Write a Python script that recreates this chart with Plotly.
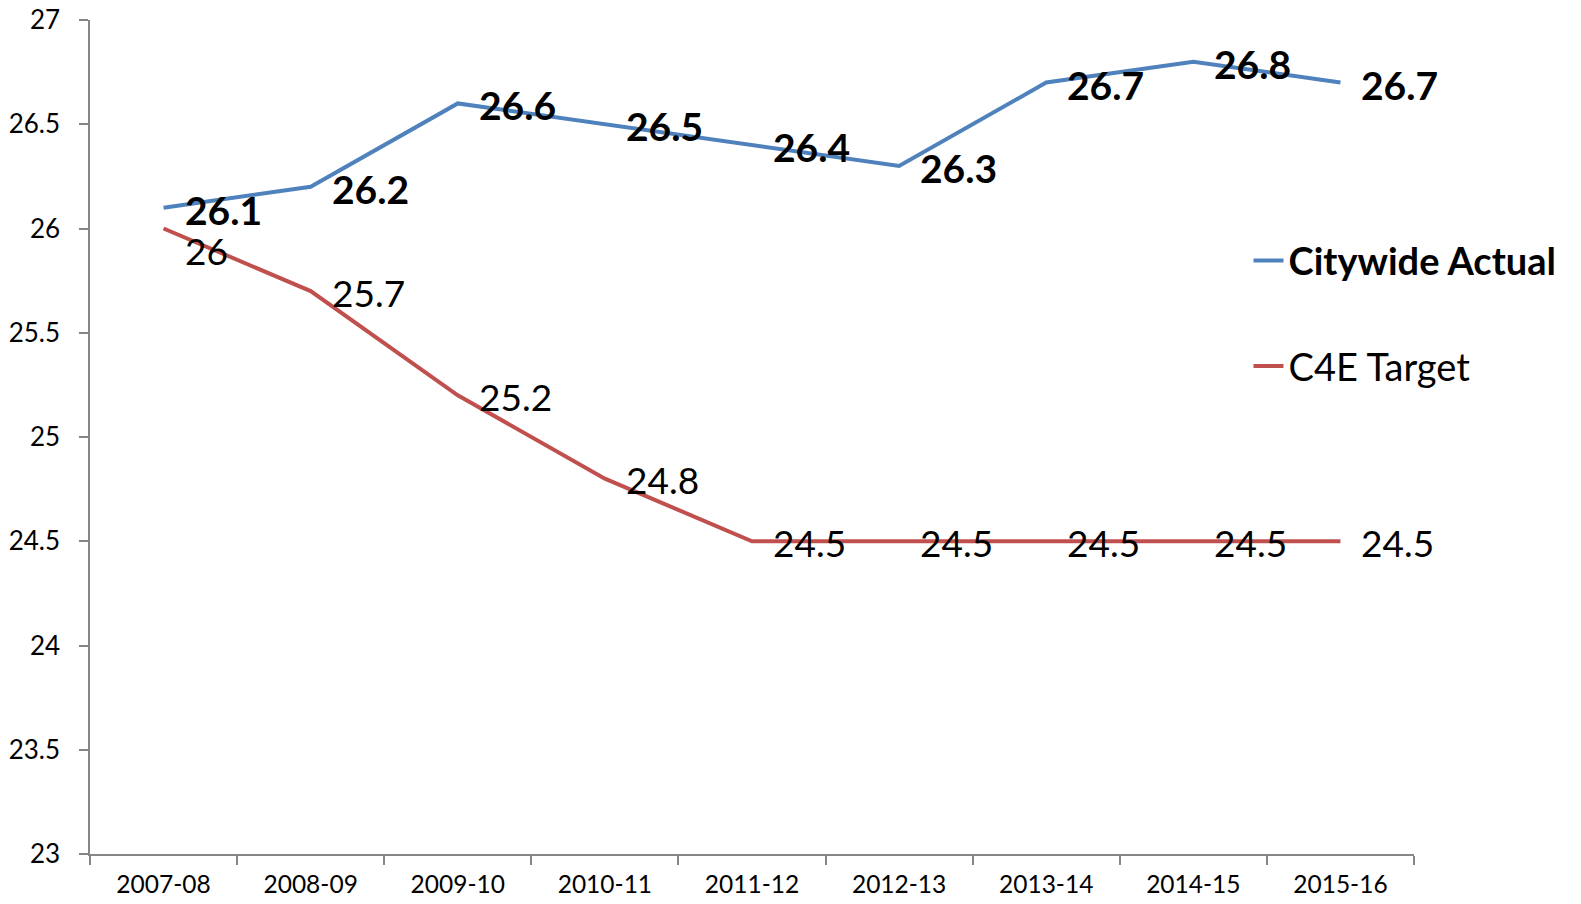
import plotly.graph_objects as go

categories = ["2007-08", "2008-09", "2009-10", "2010-11", "2011-12",
              "2012-13", "2013-14", "2014-15", "2015-16"]
actual = [26.1, 26.2, 26.6, 26.5, 26.4, 26.3, 26.7, 26.8, 26.7]
target = [26.0, 25.7, 25.2, 24.8, 24.5, 24.5, 24.5, 24.5, 24.5]

FONT = "Lato"
BLUE = "#4F81BD"
RED = "#C0504D"
AXIS = "#868686"

fig = go.Figure()
fig.add_trace(go.Scatter(x=categories, y=actual, mode="lines",
                         name="<b>Citywide Actual</b>", legendgroup="a",
                         line=dict(color=BLUE, width=4)))
fig.add_trace(go.Scatter(x=categories, y=target, mode="lines",
                         name="C4E Target", legendgroup="b",
                         line=dict(color=RED, width=4)))

for c, v in zip(categories, actual):
    fig.add_annotation(x=c, y=v, text=f"<b>{v:g}</b>", showarrow=False,
                       xanchor="left", yanchor="middle", xshift=19, yshift=-2,
                       font=dict(family=FONT, size=39, color="black"))
for i, (c, v) in enumerate(zip(categories, target)):
    fig.add_annotation(x=c, y=v, text=f"{v:g}", showarrow=False,
                       xanchor="left", yanchor="middle", xshift=19,
                       yshift=-22 if i == 0 else -1,
                       font=dict(family=FONT, size=37, color="black"))

fig.update_layout(
    width=1581, height=904,
    paper_bgcolor="white", plot_bgcolor="white",
    margin=dict(l=90, r=167, t=20, b=50, autoexpand=False),
    font=dict(family=FONT, color="black"),
    showlegend=True,
    legend=dict(x=0.875, xanchor="left", y=0.749, yanchor="top",
                font=dict(family=FONT, size=38, color="black"),
                traceorder="grouped", tracegroupgap=53,
                bgcolor="rgba(0,0,0,0)", itemwidth=30),
    xaxis=dict(type="category", range=[-0.5, 8.5], showline=True,
               linecolor=AXIS, linewidth=1.5, ticks="outside", ticklen=9,
               tickcolor=AXIS, tickwidth=1.5, tickson="boundaries",
               showgrid=False, zeroline=False, automargin=False,
               ticklabelstandoff=8,
               tickfont=dict(family=FONT, size=24.5, color="black")),
    yaxis=dict(range=[23, 27], dtick=0.5, tick0=23, showline=True,
               linecolor=AXIS, linewidth=1.5, ticks="outside", ticklen=9,
               tickcolor=AXIS, tickwidth=1.5, showgrid=False, zeroline=False,
               ticklabelstandoff=14, automargin=False,
               tickfont=dict(family=FONT, size=26, color="black")),
)

fig.write_html("out.html",
               config={"displayModeBar": False},
               post_script="document.body.style.margin='0';"
                           "document.body.style.overflow='hidden';")
